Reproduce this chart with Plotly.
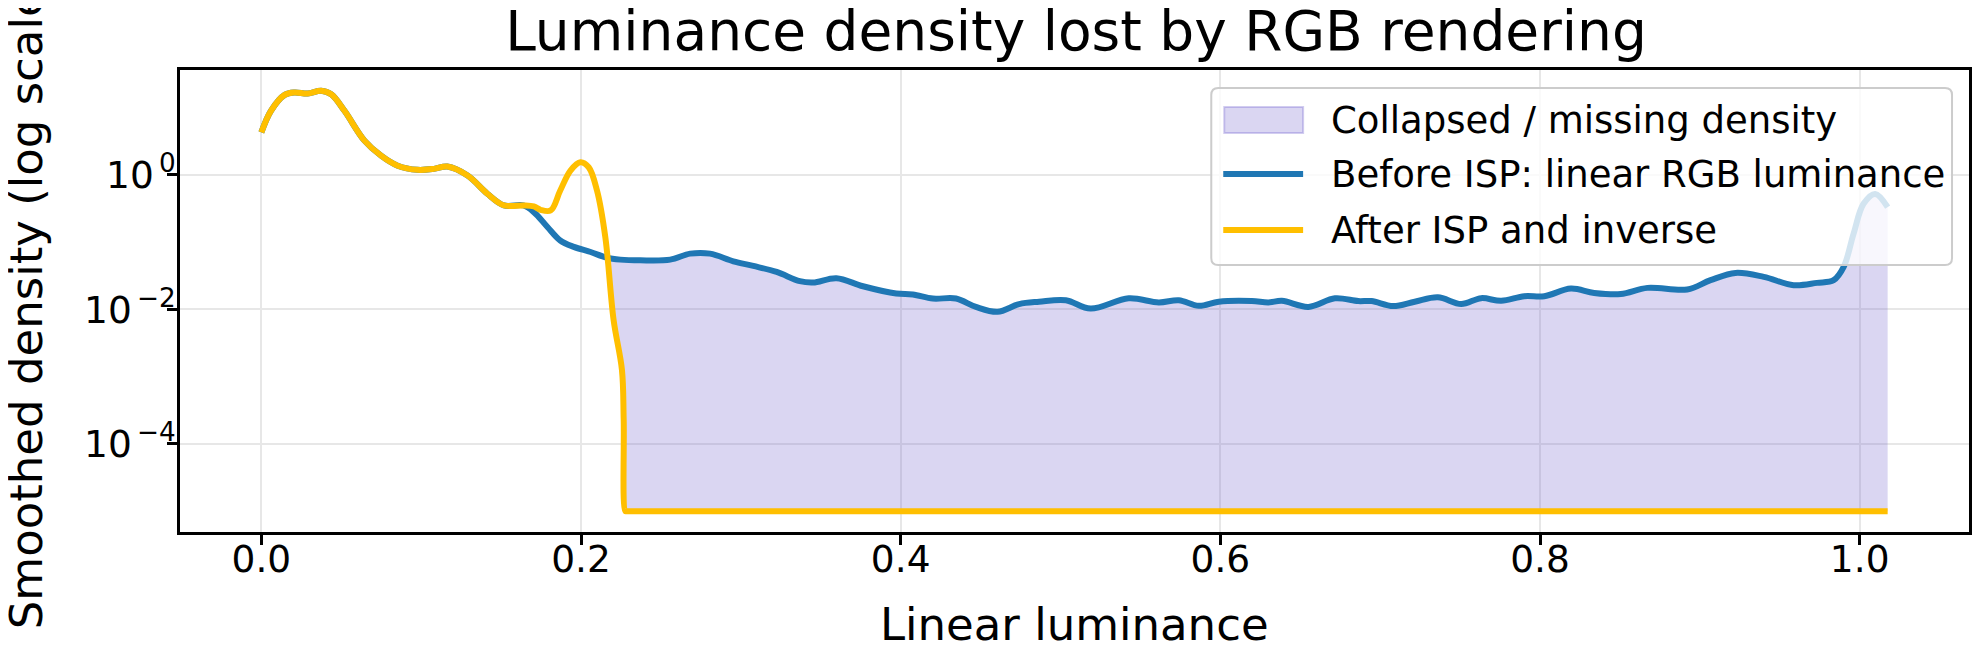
import numpy as np
import plotly.graph_objects as go

# Shared start of both density curves (identical before the ISP clipping kicks in).
head_x = [0.000, 0.006, 0.0146, 0.0208, 0.029, 0.0374, 0.0437, 0.052, 0.0645,
          0.0749, 0.0853, 0.0977, 0.108, 0.1164, 0.129, 0.1414, 0.1518, 0.164]
head_y = [4.29, 8.97, 15.5, 16.8, 16.2, 17.8, 15.8, 8.97, 3.23,
          1.93, 1.37, 1.19, 1.23, 1.33, 0.977, 0.525, 0.352, 0.352]

# Before ISP: linear RGB luminance (rest of the curve).
before_x = [0.1705, 0.179, 0.187, 0.1955, 0.206, 0.216, 0.2246, 0.2371, 0.2558,
            0.2683, 0.2807, 0.2953, 0.3078, 0.3224, 0.3369, 0.3452, 0.3598, 0.3764,
            0.3972, 0.4076, 0.4201, 0.4346, 0.4471, 0.4606, 0.4741, 0.4866, 0.5033,
            0.5188, 0.5427, 0.5615, 0.574, 0.5865, 0.599, 0.6197, 0.6301, 0.6385,
            0.6551, 0.6717, 0.6863, 0.6946, 0.7081, 0.7216, 0.7361, 0.7507, 0.7632,
            0.7757, 0.7902, 0.8027, 0.8193, 0.8339, 0.8505, 0.8672, 0.8921, 0.9067,
            0.9223, 0.94, 0.9587, 0.9733, 0.9837, 0.99, 0.9962, 1.0024, 1.0097, 1.0175]
before_y = [0.280, 0.168, 0.106, 0.0851, 0.0714, 0.0589, 0.0550, 0.0537, 0.0550,
            0.0675, 0.0675, 0.0519, 0.0443, 0.0361, 0.0263, 0.0251, 0.0291, 0.0221,
            0.0172, 0.0167, 0.0145, 0.0145, 0.0109, 0.00923, 0.0120, 0.0130, 0.0137,
            0.0103, 0.0146, 0.0127, 0.0137, 0.0113, 0.0130, 0.0133, 0.0127, 0.0134,
            0.0109, 0.0146, 0.0133, 0.0133, 0.0112, 0.0130, 0.0151, 0.0120, 0.0147,
            0.0134, 0.0157, 0.0157, 0.0204, 0.0176, 0.0169, 0.0209, 0.0198, 0.0272,
            0.0349, 0.0305, 0.0229, 0.0248, 0.0272, 0.0429, 0.134, 0.372, 0.522, 0.332]

# After ISP and inverse (rest of the curve, floored at 1e-5).
after_x = [0.1705, 0.1747, 0.181, 0.187, 0.1934, 0.1996, 0.2048, 0.21, 0.2152,
           0.2204, 0.2256, 0.2267, 0.2277, 0.2285, 1.0175]
after_y = [0.34, 0.303, 0.296, 0.586, 1.16, 1.54, 1.30, 0.586, 0.119,
           0.00692, 0.00126, 0.000229, 1e-5, 1e-5, 1e-5]

series_names = ["Collapsed / missing density", "Before ISP: linear RGB luminance",
                "After ISP and inverse"]
ytick_vals = [1, 1e-2, 1e-4]
ytick_text = ["10<sup>\u20090</sup>", "10<sup>\u2009\u22122</sup>", "10<sup>\u2009\u22124</sup>"]
xtick_vals = [0.0, 0.2, 0.4, 0.6, 0.8, 1.0]

BLUE = "#1f77b4"
AMBER = "#ffbf00"
FILL = "rgba(106,90,205,0.25)"
FONT = "DejaVu Sans"

# figure geometry (the page body adds an 8px offset, so work in figure pixels)
W, H = 1972, 652
L, R, T, B = 172, 8, 62, 128
PW, PH = W - L - R, H - T - B


def px(x):
    return (x - L) / PW


def py(y):
    return (H - B - y) / PH


bx = np.array(head_x + before_x)
by = np.array(head_y + before_y)
ax_ = np.array(head_x + after_x)
ay = np.array(head_y + after_y)

# Where the "after" curve drops below "before" -> start of the missing area.
grid = np.linspace(0.2, 0.23, 3001)
diff = np.interp(grid, ax_, np.log10(ay)) - np.interp(grid, bx, np.log10(by))
i = np.argmax(diff < 0)
x_cross = grid[i]
y_cross = 10 ** np.interp(x_cross, bx, np.log10(by))

low_x = np.concatenate([[x_cross], ax_[ax_ > x_cross]])
low_y = np.concatenate([[y_cross], ay[ax_ > x_cross]])
up_x = np.concatenate([[x_cross], bx[bx > x_cross]])
up_y = np.concatenate([[y_cross], by[bx > x_cross]])

fig = go.Figure()
fig.add_trace(go.Scatter(x=low_x, y=low_y, mode="lines", line=dict(width=0, shape="spline"),
                         hoverinfo="skip"))
fig.add_trace(go.Scatter(x=up_x, y=up_y, mode="lines", fill="tonexty", fillcolor=FILL,
                         line=dict(width=0, shape="spline"), name=series_names[0]))
fig.add_trace(go.Scatter(x=bx, y=by, mode="lines", line=dict(color=BLUE, width=6, shape="spline"),
                         name=series_names[1]))
fig.add_trace(go.Scatter(x=ax_, y=ay, mode="lines", line=dict(color=AMBER, width=6, shape="spline"),
                         name=series_names[2]))

axis_common = dict(showline=True, mirror=True, linecolor="black", linewidth=2.5,
                   ticks="outside", ticklen=10, tickwidth=2.5, tickcolor="black",
                   showgrid=True, gridcolor="rgb(231,231,231)", gridwidth=2,
                   zeroline=False, tickfont=dict(size=37.5, color="black"))

# hand-drawn legend box (matplotlib style: rounded frame, big patch)
lx0, lx1, ly0, ly1, rad = 1205, 1947, 80, 257, 7
rx, ry = rad / PW, rad / PH
a0, a1, b0, b1 = px(lx0), px(lx1), py(ly1), py(ly0)
frame = (f"M{a0 + rx},{b1} L{a1 - rx},{b1} Q{a1},{b1} {a1},{b1 - ry} "
         f"L{a1},{b0 + ry} Q{a1},{b0} {a1 - rx},{b0} L{a0 + rx},{b0} "
         f"Q{a0},{b0} {a0},{b0 + ry} L{a0},{b1 - ry} Q{a0},{b1} {a0 + rx},{b1} Z")
shapes = [
    dict(type="path", path=frame, xref="paper", yref="paper", layer="above",
         fillcolor="rgba(255,255,255,0.8)", line=dict(color="#cccccc", width=2)),
    dict(type="rect", xref="paper", yref="paper", layer="above",
         x0=px(1218), x1=px(1297), y0=py(125), y1=py(99),
         fillcolor=FILL, line=dict(color="rgba(106,90,205,0.3)", width=2)),
    dict(type="line", xref="paper", yref="paper", layer="above",
         x0=px(1217), x1=px(1297), y0=py(166), y1=py(166), line=dict(color=BLUE, width=6)),
    dict(type="line", xref="paper", yref="paper", layer="above",
         x0=px(1217), x1=px(1297), y0=py(222), y1=py(222), line=dict(color=AMBER, width=6)),
]
annotations = [
    dict(text=name, x=px(1323), y=py(yy), xref="paper", yref="paper", xanchor="left",
         yanchor="middle", showarrow=False, font=dict(size=37, color="black"))
    for name, yy in zip(series_names, [112, 166, 222])
]
# axis titles as annotations so they sit exactly where matplotlib put them
annotations.append(dict(text="Smoothed density (log scale)", textangle=-90,
                        x=px(18), y=0.5, xref="paper", yref="paper",
                        xanchor="center", yanchor="middle", showarrow=False,
                        font=dict(size=45, color="black")))
annotations.append(dict(text="Linear luminance", x=0.5, y=py(616), xref="paper", yref="paper",
                        xanchor="center", yanchor="middle", showarrow=False,
                        font=dict(size=45, color="black")))

fig.update_layout(
    width=W, height=H,
    margin=dict(l=L, r=R, t=T, b=B),
    paper_bgcolor="white", plot_bgcolor="white",
    font=dict(family=FONT, color="black"),
    showlegend=False,
    title=dict(text="Luminance density lost by RGB rendering", x=(L + PW / 2) / W,
               xanchor="center", y=1 - 42 / H, yanchor="bottom", yref="container",
               font=dict(size=55, color="black")),
    xaxis=dict(range=[-0.0509, 1.0684], tickvals=xtick_vals, tickformat=".1f",
               ticklabelstandoff=-18, **axis_common),
    yaxis=dict(type="log", range=[-5.31, 1.56], tickvals=ytick_vals, ticktext=ytick_text,
               ticklabelstandoff=-16, **axis_common),
    shapes=shapes,
    annotations=annotations,
)

fig.write_html("out.html")
